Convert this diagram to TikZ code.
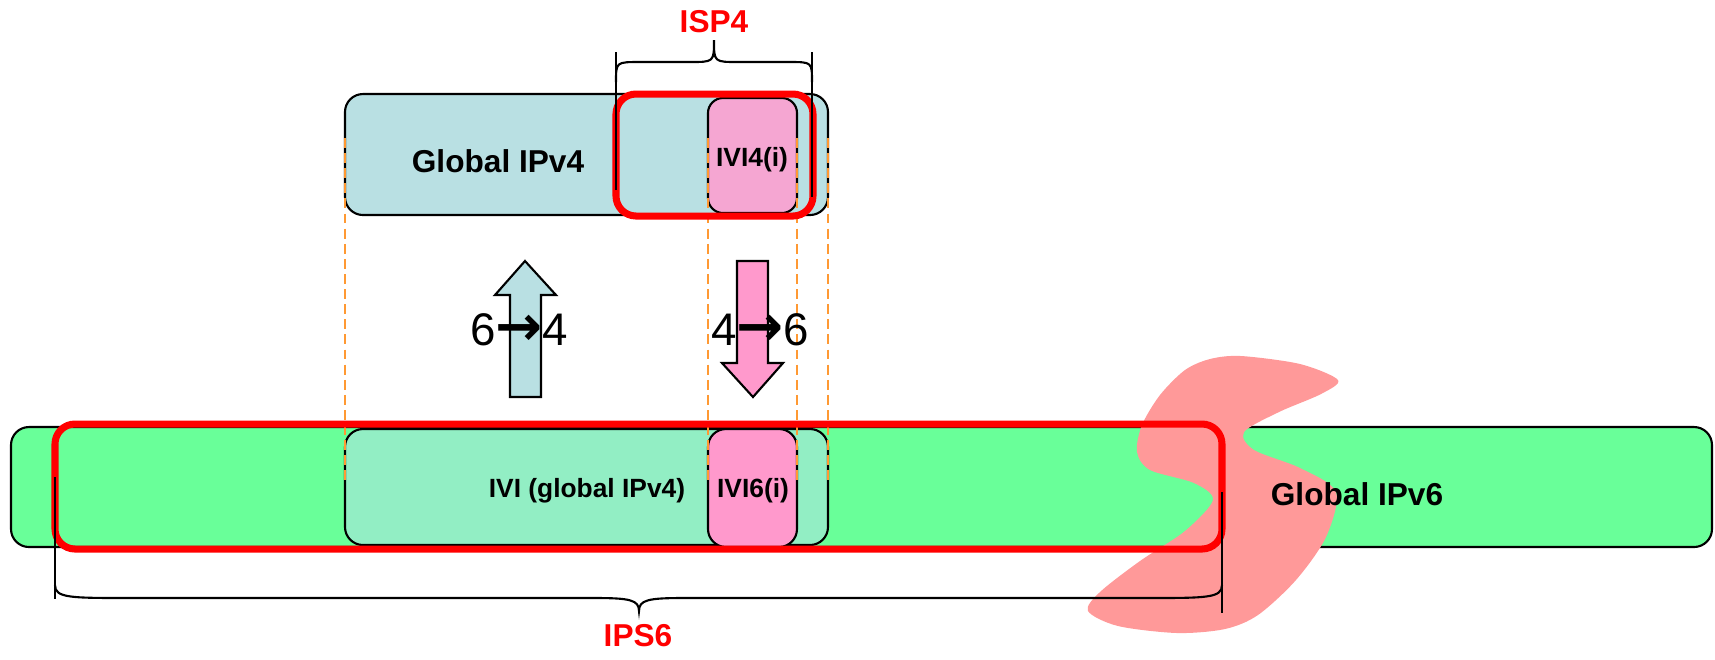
\documentclass[tikz,border=0pt]{standalone}
\usepackage{fontspec}
\setmainfont{Liberation Sans}
\newfontfamily\arrowfont{DejaVu Sans}
\definecolor{vfour}{HTML}{B9E0E3}
\definecolor{vsix}{HTML}{69FF99}
\definecolor{ivipink}{HTML}{FF99CC}
\definecolor{hatchpink}{HTML}{F5A6D2}
\definecolor{mixgreen}{HTML}{92EEC4}
\definecolor{blobred}{HTML}{FF9999}
\definecolor{guideorange}{HTML}{FF9933}
\newcommand{\convarrow}{{\arrowfont\bfseries\fontsize{16}{13}\selectfont →}}
\tikzset{
  bigtext/.style={font=\bfseries\fontsize{9}{9}\selectfont},
  smalltext/.style={font=\bfseries\fontsize{7.5}{7.5}\selectfont},
  numtext/.style={font=\fontsize{13}{13}\selectfont},
  frame/.style={red, line width=2pt, rounded corners=2mm},
  guide/.style={guideorange, line width=0.5pt, dash pattern=on 2.8pt off 1.5pt}
}

\begin{document}
\begin{tikzpicture}[x=0.1mm, y=-0.1mm]
    \useasboundingbox (0,0) rectangle (1715,659);
    \begin{scope}
      % lower bar
      \draw[semithick, fill=vsix, rounded corners=1.8mm] (11,427) rectangle (1712,547);
      \draw[semithick, fill=mixgreen, rounded corners=1.8mm] (345,429) rectangle (828,545);
      \draw[semithick, fill=ivipink, rounded corners=1.8mm] (708,429) rectangle (797,547);
      \fill[blobred] plot[smooth cycle] coordinates {(1241,356) (1300,364) (1338,380) (1321,394) (1279,412) (1244,432) (1254,450) (1300,468) (1336,492) (1326,537) (1296,580) (1258,615) (1225,629) (1177,633) (1118,626) (1088,611) (1100,592) (1140,561) (1185,531) (1213,500) (1194,483) (1150,470) (1137,452) (1142,425) (1160,395) (1185,370) (1210,359)};

      % upper bar
      \draw[semithick, fill=vfour, rounded corners=1.8mm] (345,94) rectangle (828,215);
      \draw[semithick, fill=hatchpink, rounded corners=1.5mm] (708,98) rectangle (797,213);

      % guides
      \draw[guide] (345,138) -- (345,483);
      \draw[guide] (708,138) -- (708,483);
      \draw[guide] (797,138) -- (797,483);
      \draw[guide] (828,138) -- (828,483);

      % frames
      \draw[frame] (55,424) rectangle (1222,549);
      \draw[frame] (616,94) rectangle (813,216);

      % arrows
      \draw[semithick, fill=vfour] (510,397) -- (510,295) -- (495,295) -- (525,261) -- (556,295) -- (541,295) -- (541,397) -- cycle;
      \draw[semithick, fill=ivipink] (737,261) -- (768,261) -- (768,363) -- (783,363) -- (753,397) -- (722,363) -- (737,363) -- cycle;
      \node[numtext] (upconv) at (519,330) {6\convarrow4};
      \node[numtext] (downconv) at (760,330) {4\convarrow6};

      % braces
      \draw[semithick] (616,52) -- (616,190);
      \draw[semithick] (812,52) -- (812,197);
      \draw[semithick] (616,82) .. controls (616,62) .. (640,62) -- (690,62) .. controls (714,62) .. (714,40) .. controls (714,62) .. (738,62) -- (789,62) .. controls (812,62) .. (812,82);
      \draw[semithick] (55,477) -- (55,599);
      \draw[semithick] (1222,492) -- (1222,613);
      \draw[semithick] (55,585) .. controls (55,598) and (70,598) .. (130,598) -- (595,598) .. controls (630,598) and (639,600) .. (639,611) .. controls (639,600) and (648,598) .. (683,598) -- (1147,598) .. controls (1207,598) and (1222,598) .. (1222,585);

      % labels
      \node[bigtext, red] (isp) at (714,22) {ISP4};
      \node[bigtext] (gfour) at (498,161) {Global IPv4};
      \node[smalltext] (ivifour) at (752,160) {IVI4(i)};
      \node[smalltext] (ivi) at (587,491) {IVI (global IPv4)};
      \node[smalltext] (ivisix) at (753,491) {IVI6(i)};
      \node[bigtext] (gsix) at (1357,494) {Global IPv6};
      \node[bigtext, red] (ips) at (638,636) {IPS6};
    \end{scope}
  \end{tikzpicture}
\end{document}
